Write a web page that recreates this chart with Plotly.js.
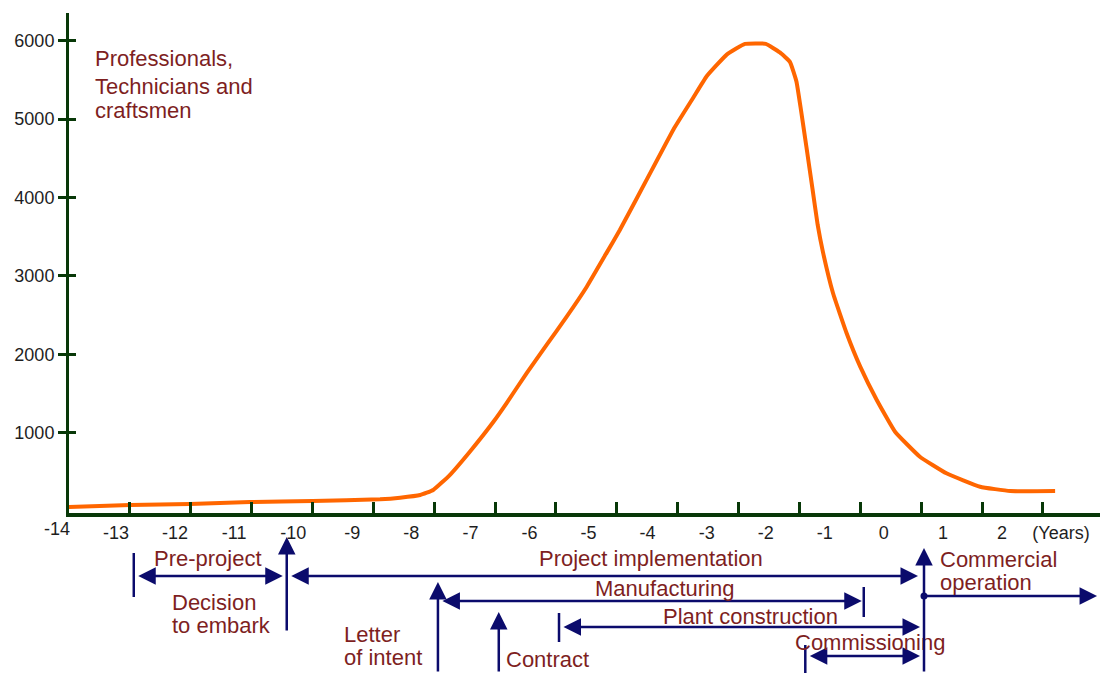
<!DOCTYPE html>
<html>
<head>
<meta charset="utf-8">
<script src="https://cdn.plot.ly/plotly-3.0.1.min.js"></script>
<style>
html,body{margin:0;padding:0;background:#ffffff;}
#chart{width:1100px;height:673px;}
</style>
</head>
<body>
<div id="chart"></div>
<script>
// ---------------- data ----------------
const seriesName = ['Professionals,', 'Technicians and', 'craftsmen'];
const years = [-13.81,-12.76,-11.75,-10.73,-9.67,-8.53,-8.19,-7.85,-7.63,-7.35,-7.01,-6.61,-6.39,-6.05,-5.71,-5.37,-5.03,-4.69,-4.47,-4.02,-3.56,-3.23,-3.00,-2.66,-2.35,-2.00,-1.76,-1.59,-1.48,-1.40,-1.31,-1.21,-1.12,-1.03,-0.86,-0.63,-0.40,-0.12,0.19,0.61,1.06,1.63,2.14,2.90];
const staff = [52,78,91,116,129,151,171,205,269,460,758,1140,1375,1758,2120,2480,2862,3300,3585,4221,4871,5269,5546,5823,5960,5960,5850,5730,5480,5100,4640,4120,3650,3300,2778,2268,1842,1417,1013,694,482,311,256,256];

const xTickVals = [-14,-13,-12,-11,-10,-9,-8,-7,-6,-5,-4,-3,-2,-1,0,1,2,3];
const xTickText = ['-14','-13','-12','-11','-10','-9','-8','-7','-6','-5','-4','-3','-2','-1','0','1','2','(Years)'];
const yTickVals = [1000,2000,3000,4000,5000,6000];

const phases = ['Pre-project','Project implementation','Manufacturing','Plant construction','Commissioning','Operation'];
const phaseStart = [-12.70,-10.11,-7.55,-5.50,-1.33,0.68];
const phaseEnd = [-10.11,0.68,-0.34,0.68,0.68,3.61];

const milestones = ['Decision<br>to embark','Letter<br>of intent','Contract','Commercial<br>operation'];
const milestoneYear = [-10.11,-7.55,-6.52,0.68];

// ---------------- layout geometry ----------------
const W = 1100, H = 673;
const L = 69, R = 1100, T = 13, B = 513;
const pw = R - L, ph = B - T;
const pxPerYear = 59.06, pxYearMinus14 = 57;      // tick-label scale
const pxPerTick = 60.87;                           // tick-mark scale
const pxPer1000 = 78.4, pxZero = 511.1;
const xRange = [(L - pxYearMinus14) / pxPerYear - 14, (R - pxYearMinus14) / pxPerYear - 14];
const yRange = [(pxZero - B) / pxPer1000 * 1000, (pxZero - T) / pxPer1000 * 1000];
const pX = px => (px - L) / pw;
const pY = py => (B - py) / ph;

const FONT = 'Liberation Sans, Arial, Helvetica, sans-serif';
const NAVY = '#0b0b6c';
const MAROON = '#7e1f1f';
const GREEN = '#083808';
const ORANGE = '#ff6600';
const TXT = 22;
const HEAD = 2, HEADSIZE = 1.4, ARROWW = 2.5;

// layout of the phase bars (pixels)
const phaseRow = [576, 576, 601, 627, 656, 596];
const phaseGap = [[3,4],[3,6],[3,2],[3,4],[3,4],[0,0]];
const phaseBar = [['start',553,597], null, ['end',587,617], ['start',613,642], ['start',645,673], null];
const phaseLabel = [[208,565],[651,565],[664,595],[750,623],[870,649], null];
// milestone arrows: tip, tail, label left x, label baselines
const msTip = [537, 582, 612, 548];
const msTail = [632, 673, 673, 673];
const msLabelX = [170, 342, 504, 938];
const msLabelBase = [[609,632],[641,664],[666],[566,589]];

const annotations = [];
const shapes = [];

function textLine(text, px, base, anchor, size, color) {
  annotations.push({
    xref: 'paper', yref: 'paper', x: pX(px), y: pY(base - 7),
    xanchor: anchor, yanchor: 'middle', text: text, showarrow: false,
    font: {family: FONT, size: size, color: color}
  });
}

// series label
seriesName.forEach((t, i) => textLine(t, 93, [66, 93, 118][i], 'left', TXT, MAROON));

// tick labels falling outside the axis range
xTickVals.forEach((v, i) => {
  if (v < xRange[0] || v > xRange[1]) {
    annotations.push({
      xref: 'paper', yref: 'paper',
      x: pX(pxYearMinus14 + pxPerYear * (v + 14)), y: pY(B + 4),
      xanchor: 'center', yanchor: 'top', showarrow: false, text: xTickText[i],
      font: {family: FONT, size: 18, color: '#1e1e1e'}
    });
  }
});

// phase arrows
phases.forEach((name, i) => {
  const open = (i === phases.length - 1);
  annotations.push({
    xref: 'x', yref: 'paper', x: phaseEnd[i], y: pY(phaseRow[i]),
    axref: 'x', ax: phaseStart[i], ayref: 'pixel', ay: 0,
    text: '', showarrow: true,
    arrowhead: HEAD, startarrowhead: HEAD, arrowside: open ? 'end' : 'end+start',
    arrowsize: HEADSIZE, startarrowsize: HEADSIZE, arrowwidth: ARROWW, arrowcolor: NAVY,
    standoff: phaseGap[i][1], startstandoff: phaseGap[i][0]
  });
  if (phaseBar[i]) {
    const xv = phaseBar[i][0] === 'start' ? phaseStart[i] : phaseEnd[i];
    shapes.push({
      type: 'line', xref: 'x', yref: 'paper', x0: xv, x1: xv,
      y0: pY(phaseBar[i][1]), y1: pY(phaseBar[i][2]),
      line: {color: NAVY, width: 2.5}
    });
  }
  if (phaseLabel[i]) textLine(name, phaseLabel[i][0], phaseLabel[i][1], 'center', TXT, MAROON);
});

// milestone arrows
milestones.forEach((name, i) => {
  annotations.push({
    xref: 'x', yref: 'paper', x: milestoneYear[i], y: pY(msTip[i]),
    axref: 'pixel', ayref: 'pixel', ax: 0, ay: msTail[i] - msTip[i],
    text: '', showarrow: true, arrowhead: HEAD, arrowsize: HEADSIZE, arrowwidth: ARROWW,
    arrowcolor: NAVY, standoff: 0
  });
  name.split('<br>').forEach((line, j) => textLine(line, msLabelX[i], msLabelBase[i][j], 'left', TXT, MAROON));
});

// junction dot of commercial operation
shapes.push({
  type: 'circle', xref: 'x', yref: 'paper', xsizemode: 'pixel', ysizemode: 'pixel',
  xanchor: milestoneYear[3], yanchor: pY(phaseRow[5]), x0: -3.5, x1: 3.5, y0: -3.5, y1: 3.5,
  fillcolor: NAVY, line: {width: 0}
});

const traces = [
  {x: years, y: staff, type: 'scatter', mode: 'lines', name: seriesName.join(' '),
   line: {color: ORANGE, width: 4, shape: 'spline', smoothing: 0.35}, hoverinfo: 'x+y'},
  {x: [], y: [], type: 'scatter', mode: 'lines', xaxis: 'x2', yaxis: 'y', showlegend: false, hoverinfo: 'skip'},
  {x: [], y: [], type: 'scatter', mode: 'lines', xaxis: 'x', yaxis: 'y2', showlegend: false, hoverinfo: 'skip'}
];

const layout = {
  width: W, height: H,
  margin: {l: L, r: W - R, t: T, b: H - B, pad: 0},
  paper_bgcolor: '#ffffff', plot_bgcolor: '#ffffff',
  showlegend: false,
  font: {family: FONT, size: 18, color: '#1e1e1e'},
  xaxis: {
    range: xRange, showgrid: false, zeroline: false,
    showline: true, linecolor: GREEN, linewidth: 4,
    tickmode: 'array', tickvals: xTickVals, ticktext: xTickText, ticks: '',
    tickfont: {family: FONT, size: 18, color: '#1e1e1e'}, fixedrange: true
  },
  xaxis2: {
    overlaying: 'x', anchor: 'y', side: 'bottom',
    range: [0, pw / pxPerTick], tick0: 0, dtick: 1,
    ticks: 'inside', ticklen: 11, tickwidth: 3, tickcolor: GREEN,
    showticklabels: false, showgrid: false, zeroline: false, showline: false, fixedrange: true
  },
  yaxis: {
    range: yRange, showgrid: false, zeroline: false,
    showline: true, linecolor: GREEN, linewidth: 3,
    tickmode: 'array', tickvals: yTickVals, ticks: 'outside', ticklen: 8, tickwidth: 3, tickcolor: GREEN,
    tickfont: {family: FONT, size: 18, color: '#1e1e1e'}, fixedrange: true
  },
  yaxis2: {
    overlaying: 'y', anchor: 'x', side: 'left', range: yRange,
    tickmode: 'array', tickvals: yTickVals, ticks: 'inside', ticklen: 7, tickwidth: 3, tickcolor: GREEN,
    showticklabels: false, showgrid: false, zeroline: false, showline: false, fixedrange: true
  },
  annotations: annotations,
  shapes: shapes
};

Plotly.newPlot('chart', traces, layout, {displayModeBar: false, staticPlot: true});
</script>
</body>
</html>
